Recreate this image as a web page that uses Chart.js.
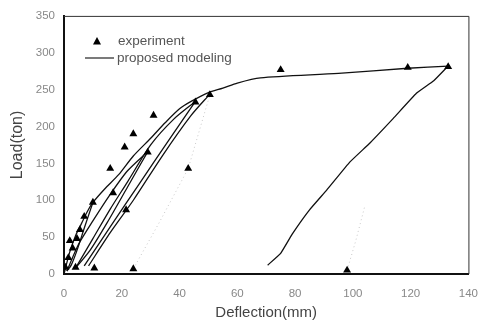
<!DOCTYPE html>
<html>
<head>
<meta charset="utf-8">
<script src="https://cdn.jsdelivr.net/npm/chart.js@4"></script>
<style>
  html, body { margin: 0; padding: 0; background: #fff; }
  #wrap { width: 491px; height: 324px; }
</style>
</head>
<body>
<div id="wrap"><canvas id="grafico"></canvas></div>
<script>
const ctx = document.getElementById('grafico');

// experiment points (deflection mm, load ton)
let expDefl = [0.5, 1.5, 2, 3, 4, 4.5, 5.5, 7, 10, 16, 17, 21, 21.5, 24, 29, 31, 43, 45.5, 50.5, 75, 119, 133, 98, 10.5, 24]
let expLoad = [9, 22, 45, 35, 9, 48, 60, 78, 97, 143, 110, 172, 87, 190, 165, 215, 143, 233, 243, 277, 280, 281, 5, 8, 7]

// proposed modeling - envelope + loops
let envDefl = [0, 2, 4, 6, 8, 10, 14, 19, 24, 30, 35, 40, 44, 50, 55, 60, 68, 95, 119, 133]
let envLoad = [0, 30, 52, 68, 84, 97, 115, 135, 160, 184, 205, 224, 234, 246, 252, 259, 266, 272, 279, 282]
let unl1Defl = [10, 7, 4.5, 2.5, 1]
let unl1Load = [97, 62, 32, 12, 4]
let rel1Defl = [1, 5, 10, 16, 22, 29]
let rel1Load = [4, 40, 72, 108, 140, 166]
let unl2Defl = [29, 22, 15, 9, 4]
let unl2Load = [166, 118, 70, 32, 8]
let rel2Defl = [4, 10, 16, 22, 30, 38, 45.5]
let rel2Load = [8, 48, 88, 125, 175, 210, 234]
let unl3Defl = [45.5, 36, 26, 16, 7]
let unl3Load = [234, 180, 122, 64, 11]
let rel3Defl = [8.5, 16, 24, 34, 44, 50.5]
let rel3Load = [11, 56, 100, 160, 215, 244]
let unl4Defl = [133, 128, 122, 114, 106, 99, 91, 85, 79, 75, 70.5]
let unl4Load = [282, 262, 245, 211, 178, 152, 114, 87, 54, 28, 12]

// faint measured traces
let tr1Defl = [24, 33, 43, 50.5]
let tr1Load = [7, 70, 143, 243]
let tr2Defl = [98, 101, 104]
let tr2Load = [5, 45, 90]

let xTicks = [0, 20, 40, 60, 80, 100, 120, 140]

function pts(xs, ys) {
    return xs.map((x, i) => ({ x: x, y: ys[i] }))
}

function modelo(xs, ys, tensao) {
    return {
        label: 'proposed modeling',
        data: pts(xs, ys),
        showLine: true,
        borderColor: '#111',
        borderWidth: 1.3,
        pointRadius: 0,
        tension: tensao === undefined ? 0.25 : tensao,
        fill: false
    }
}

function traco(xs, ys) {
    return {
        label: 'trace',
        data: pts(xs, ys),
        showLine: true,
        borderColor: '#c8c8c8',
        borderWidth: 1,
        borderDash: [1, 3],
        pointRadius: 0,
        fill: false
    }
}

const fonte = "'Liberation Sans', Arial, sans-serif"

// box + legend drawn inside chart area
const caixa = {
    id: 'caixa',
    afterDraw(chart) {
        const c = chart.ctx
        const a = chart.chartArea
        c.save()
        c.strokeStyle = '#333'
        c.lineWidth = 1
        c.beginPath()
        c.moveTo(a.left, a.top + 0.5)
        c.lineTo(a.right + 0.5, a.top + 0.5)
        c.lineTo(a.right + 0.5, a.bottom)
        c.stroke()

        // legend
        c.fillStyle = '#000'
        c.beginPath()
        c.moveTo(97, 37)
        c.lineTo(101, 44.5)
        c.lineTo(93, 44.5)
        c.closePath()
        c.fill()
        c.strokeStyle = '#222'
        c.lineWidth = 1.2
        c.beginPath()
        c.moveTo(85, 58)
        c.lineTo(114, 58)
        c.stroke()
        c.font = '13.5px ' + fonte
        c.fillStyle = '#555'
        c.textBaseline = 'middle'
        c.fillText('experiment', 118, 41)
        c.fillText('proposed modeling', 117, 58)
        c.restore()
    }
}

new Chart(ctx, {
    type: 'scatter',
    data: {
        datasets: [
            {
                label: 'experiment',
                data: pts(expDefl, expLoad),
                pointStyle: 'triangle',
                pointRadius: 4.6,
                backgroundColor: '#000',
                borderColor: '#000',
                borderWidth: 0,
                showLine: false
            },
            modelo(envDefl, envLoad),
            modelo(unl1Defl, unl1Load),
            modelo(rel1Defl, rel1Load),
            modelo(unl2Defl, unl2Load),
            modelo(rel2Defl, rel2Load),
            modelo(unl3Defl, unl3Load),
            modelo(rel3Defl, rel3Load),
            modelo(unl4Defl, unl4Load, 0.1),
            traco(tr1Defl, tr1Load),
            traco(tr2Defl, tr2Load)
        ]
    },
    options: {
        responsive: true,
        maintainAspectRatio: false,
        animation: false,
        layout: { padding: { top: 13, right: 19, left: 0, bottom: 0 } },
        plugins: {
            legend: { display: false },
            tooltip: { enabled: false }
        },
        scales: {
            x: {
                type: 'linear',
                min: 0,
                max: 140,
                afterFit: s => { s.height = 50 },
                afterBuildTicks: s => { s.ticks = xTicks.map(v => ({ value: v })) },
                grid: { display: false, drawTicks: false },
                border: { display: true, color: '#111', width: 2 },
                ticks: { padding: 13, color: '#888', font: { size: 11.5, family: fonte } },
                title: {
                    display: true,
                    text: 'Deflection(mm)',
                    color: '#444',
                    font: { size: 15, family: fonte },
                    padding: { top: 0, bottom: 2 }
                }
            },
            y: {
                min: 0,
                max: 350,
                afterFit: s => { s.width = 64 },
                grid: { display: false, drawTicks: false },
                border: { display: true, color: '#111', width: 2 },
                ticks: { stepSize: 50, padding: 9, color: '#888', font: { size: 11.5, family: fonte } },
                title: {
                    display: true,
                    text: 'Load(ton)',
                    color: '#444',
                    font: { size: 16, family: fonte },
                    padding: { top: 8, bottom: 0 }
                }
            }
        }
    },
    plugins: [caixa]
});
</script>
</body>
</html>
